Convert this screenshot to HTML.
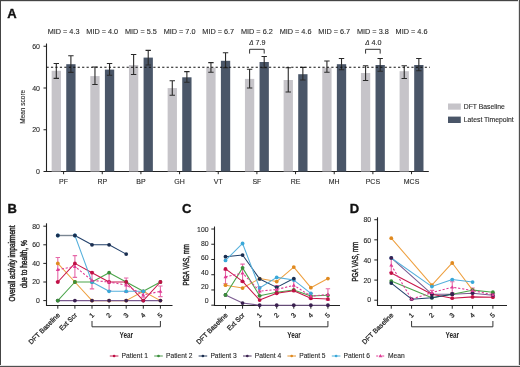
<!DOCTYPE html>
<html><head><meta charset="utf-8"><style>
html,body{margin:0;padding:0;background:#fff;position:relative;width:520px;height:367px;overflow:hidden;}
svg{display:block;font-family:"Liberation Sans", sans-serif;filter:blur(0.3px);}
text{stroke:#262626;stroke-width:0.1px;}
text[font-weight=bold]{stroke:none;}
text.L{stroke:#111;stroke-width:0.35px;}
</style></head><body>
<svg width="520" height="367" viewBox="0 0 520 367">
<text x="7.20" y="17.80" font-size="13" text-anchor="start" font-weight="bold" fill="#111"  class="L">A</text>
<line x1="46.5" y1="43.5" x2="46.5" y2="172.0" stroke="#222" stroke-width="1.1"/>
<line x1="43.5" y1="171.5" x2="428.8" y2="171.5" stroke="#222" stroke-width="1.1"/>
<line x1="43.5" y1="129.75" x2="46.5" y2="129.75" stroke="#222" stroke-width="1"/>
<line x1="43.5" y1="88.00" x2="46.5" y2="88.00" stroke="#222" stroke-width="1"/>
<line x1="43.5" y1="46.25" x2="46.5" y2="46.25" stroke="#222" stroke-width="1"/>
<text x="40.00" y="173.80" font-size="7" text-anchor="end" font-weight="normal" fill="#262626" >0</text>
<text x="40.00" y="132.10" font-size="7" text-anchor="end" font-weight="normal" fill="#262626" >20</text>
<text x="40.00" y="90.50" font-size="7" text-anchor="end" font-weight="normal" fill="#262626" >40</text>
<text x="40.00" y="48.90" font-size="7" text-anchor="end" font-weight="normal" fill="#262626" >60</text>
<text transform="translate(24.8,106.8) rotate(-90)" x="0" y="0" font-size="6.5" text-anchor="middle" fill="#262626">Mean score</text>
<rect x="51.65" y="70.80" width="9.3" height="100.70" fill="#c6c4c9"/>
<rect x="66.25" y="64.20" width="9.3" height="107.30" fill="#4a5668"/>
<path d="M53.60 63.50H59.00M56.30 63.50V78.40M53.60 78.40H59.00" stroke="#2a2a2a" stroke-width="1.1" fill="none"/>
<path d="M68.20 55.80H73.60M70.90 55.80V72.40M68.20 72.40H73.60" stroke="#2a2a2a" stroke-width="1.1" fill="none"/>
<line x1="63.60" y1="171.5" x2="63.60" y2="174.2" stroke="#222" stroke-width="1"/>
<text x="63.60" y="183.60" font-size="7" text-anchor="middle" font-weight="normal" fill="#262626" >PF</text>
<text x="63.60" y="34.20" font-size="7.3" text-anchor="middle" font-weight="normal" fill="#262626" >MID = 4.3</text>
<rect x="90.31" y="76.10" width="9.3" height="95.40" fill="#c6c4c9"/>
<rect x="104.91" y="69.60" width="9.3" height="101.90" fill="#4a5668"/>
<path d="M92.26 67.00H97.66M94.96 67.00V84.50M92.26 84.50H97.66" stroke="#2a2a2a" stroke-width="1.1" fill="none"/>
<path d="M106.86 63.50H112.26M109.56 63.50V75.30M106.86 75.30H112.26" stroke="#2a2a2a" stroke-width="1.1" fill="none"/>
<line x1="102.26" y1="171.5" x2="102.26" y2="174.2" stroke="#222" stroke-width="1"/>
<text x="102.26" y="183.60" font-size="7" text-anchor="middle" font-weight="normal" fill="#262626" >RP</text>
<text x="102.26" y="34.20" font-size="7.3" text-anchor="middle" font-weight="normal" fill="#262626" >MID = 4.0</text>
<rect x="128.97" y="65.00" width="9.3" height="106.50" fill="#c6c4c9"/>
<rect x="143.57" y="57.60" width="9.3" height="113.90" fill="#4a5668"/>
<path d="M130.92 54.50H136.32M133.62 54.50V74.50M130.92 74.50H136.32" stroke="#2a2a2a" stroke-width="1.1" fill="none"/>
<path d="M145.52 50.40H150.92M148.22 50.40V65.00M145.52 65.00H150.92" stroke="#2a2a2a" stroke-width="1.1" fill="none"/>
<line x1="140.92" y1="171.5" x2="140.92" y2="174.2" stroke="#222" stroke-width="1"/>
<text x="140.92" y="183.60" font-size="7" text-anchor="middle" font-weight="normal" fill="#262626" >BP</text>
<text x="140.92" y="34.20" font-size="7.3" text-anchor="middle" font-weight="normal" fill="#262626" >MID = 5.5</text>
<rect x="167.63" y="88.10" width="9.3" height="83.40" fill="#c6c4c9"/>
<rect x="182.23" y="77.30" width="9.3" height="94.20" fill="#4a5668"/>
<path d="M169.58 80.70H174.98M172.28 80.70V95.30M169.58 95.30H174.98" stroke="#2a2a2a" stroke-width="1.1" fill="none"/>
<path d="M184.18 71.60H189.58M186.88 71.60V82.20M184.18 82.20H189.58" stroke="#2a2a2a" stroke-width="1.1" fill="none"/>
<line x1="179.58" y1="171.5" x2="179.58" y2="174.2" stroke="#222" stroke-width="1"/>
<text x="179.58" y="183.60" font-size="7" text-anchor="middle" font-weight="normal" fill="#262626" >GH</text>
<text x="179.58" y="34.20" font-size="7.3" text-anchor="middle" font-weight="normal" fill="#262626" >MID = 7.0</text>
<rect x="206.29" y="67.70" width="9.3" height="103.80" fill="#c6c4c9"/>
<rect x="220.89" y="60.80" width="9.3" height="110.70" fill="#4a5668"/>
<path d="M208.24 62.60H213.64M210.94 62.60V72.30M208.24 72.30H213.64" stroke="#2a2a2a" stroke-width="1.1" fill="none"/>
<path d="M222.84 52.80H228.24M225.54 52.80V67.70M222.84 67.70H228.24" stroke="#2a2a2a" stroke-width="1.1" fill="none"/>
<line x1="218.24" y1="171.5" x2="218.24" y2="174.2" stroke="#222" stroke-width="1"/>
<text x="218.24" y="183.60" font-size="7" text-anchor="middle" font-weight="normal" fill="#262626" >VT</text>
<text x="218.24" y="34.20" font-size="7.3" text-anchor="middle" font-weight="normal" fill="#262626" >MID = 6.7</text>
<rect x="244.95" y="78.90" width="9.3" height="92.60" fill="#c6c4c9"/>
<rect x="259.55" y="62.00" width="9.3" height="109.50" fill="#4a5668"/>
<path d="M246.90 69.30H252.30M249.60 69.30V88.00M246.90 88.00H252.30" stroke="#2a2a2a" stroke-width="1.1" fill="none"/>
<path d="M261.50 56.50H266.90M264.20 56.50V67.70M261.50 67.70H266.90" stroke="#2a2a2a" stroke-width="1.1" fill="none"/>
<line x1="256.90" y1="171.5" x2="256.90" y2="174.2" stroke="#222" stroke-width="1"/>
<text x="256.90" y="183.60" font-size="7" text-anchor="middle" font-weight="normal" fill="#262626" >SF</text>
<text x="256.90" y="34.20" font-size="7.3" text-anchor="middle" font-weight="normal" fill="#262626" >MID = 6.2</text>
<rect x="283.61" y="80.00" width="9.3" height="91.50" fill="#c6c4c9"/>
<rect x="298.21" y="74.20" width="9.3" height="97.30" fill="#4a5668"/>
<path d="M285.56 67.70H290.96M288.26 67.70V92.00M285.56 92.00H290.96" stroke="#2a2a2a" stroke-width="1.1" fill="none"/>
<path d="M300.16 67.40H305.56M302.86 67.40V80.00M300.16 80.00H305.56" stroke="#2a2a2a" stroke-width="1.1" fill="none"/>
<line x1="295.56" y1="171.5" x2="295.56" y2="174.2" stroke="#222" stroke-width="1"/>
<text x="295.56" y="183.60" font-size="7" text-anchor="middle" font-weight="normal" fill="#262626" >RE</text>
<text x="295.56" y="34.20" font-size="7.3" text-anchor="middle" font-weight="normal" fill="#262626" >MID = 4.6</text>
<rect x="322.27" y="67.70" width="9.3" height="103.80" fill="#c6c4c9"/>
<rect x="336.87" y="64.20" width="9.3" height="107.30" fill="#4a5668"/>
<path d="M324.22 61.00H329.62M326.92 61.00V72.30M324.22 72.30H329.62" stroke="#2a2a2a" stroke-width="1.1" fill="none"/>
<path d="M338.82 58.50H344.22M341.52 58.50V69.70M338.82 69.70H344.22" stroke="#2a2a2a" stroke-width="1.1" fill="none"/>
<line x1="334.22" y1="171.5" x2="334.22" y2="174.2" stroke="#222" stroke-width="1"/>
<text x="334.22" y="183.60" font-size="7" text-anchor="middle" font-weight="normal" fill="#262626" >MH</text>
<text x="334.22" y="34.20" font-size="7.3" text-anchor="middle" font-weight="normal" fill="#262626" >MID = 6.7</text>
<rect x="360.93" y="73.00" width="9.3" height="98.50" fill="#c6c4c9"/>
<rect x="375.53" y="65.00" width="9.3" height="106.50" fill="#4a5668"/>
<path d="M362.88 65.70H368.28M365.58 65.70V80.50M362.88 80.50H368.28" stroke="#2a2a2a" stroke-width="1.1" fill="none"/>
<path d="M377.48 58.50H382.88M380.18 58.50V71.20M377.48 71.20H382.88" stroke="#2a2a2a" stroke-width="1.1" fill="none"/>
<line x1="372.88" y1="171.5" x2="372.88" y2="174.2" stroke="#222" stroke-width="1"/>
<text x="372.88" y="183.60" font-size="7" text-anchor="middle" font-weight="normal" fill="#262626" >PCS</text>
<text x="372.88" y="34.20" font-size="7.3" text-anchor="middle" font-weight="normal" fill="#262626" >MID = 3.8</text>
<rect x="399.59" y="71.20" width="9.3" height="100.30" fill="#c6c4c9"/>
<rect x="414.19" y="65.00" width="9.3" height="106.50" fill="#4a5668"/>
<path d="M401.54 65.70H406.94M404.24 65.70V78.50M401.54 78.50H406.94" stroke="#2a2a2a" stroke-width="1.1" fill="none"/>
<path d="M416.14 58.50H421.54M418.84 58.50V70.80M416.14 70.80H421.54" stroke="#2a2a2a" stroke-width="1.1" fill="none"/>
<line x1="411.54" y1="171.5" x2="411.54" y2="174.2" stroke="#222" stroke-width="1"/>
<text x="411.54" y="183.60" font-size="7" text-anchor="middle" font-weight="normal" fill="#262626" >MCS</text>
<text x="411.54" y="34.20" font-size="7.3" text-anchor="middle" font-weight="normal" fill="#262626" >MID = 4.6</text>
<line x1="46.5" y1="67.3" x2="430" y2="67.3" stroke="#111" stroke-width="1.1" stroke-dasharray="2.2 2.25"/>
<path d="M249.60 53.6V49.3H264.20V53.6" stroke="#333" stroke-width="1" fill="none"/>
<text x="257.40" y="45.00" font-size="7.2" text-anchor="middle" font-weight="normal" fill="#262626" ><tspan font-style="italic" font-size="6.4">&#916;</tspan> 7.9</text>
<path d="M365.58 53.6V49.3H380.18V53.6" stroke="#333" stroke-width="1" fill="none"/>
<text x="373.38" y="45.00" font-size="7.2" text-anchor="middle" font-weight="normal" fill="#262626" ><tspan font-style="italic" font-size="6.4">&#916;</tspan> 4.0</text>
<rect x="448" y="103.5" width="12.8" height="6.2" fill="#c6c4c9"/>
<rect x="448" y="116.6" width="12.8" height="6.4" fill="#4a5668"/>
<text x="463.80" y="109.00" font-size="6.8" text-anchor="start" font-weight="normal" fill="#262626" >DFT Baseline</text>
<text x="463.80" y="122.10" font-size="6.8" text-anchor="start" font-weight="normal" fill="#262626" >Latest Timepoint</text>
<text x="7.40" y="212.80" font-size="13" text-anchor="start" font-weight="bold" fill="#111"  class="L">B</text>
<line x1="46.5" y1="223.3" x2="46.5" y2="306.0" stroke="#222" stroke-width="1.1"/>
<line x1="46.0" y1="305.5" x2="172.5" y2="305.5" stroke="#222" stroke-width="1.1"/>
<line x1="43.3" y1="300.60" x2="46.5" y2="300.60" stroke="#222" stroke-width="1"/>
<text x="39.90" y="303.00" font-size="6.9" text-anchor="end" font-weight="normal" fill="#262626" >0</text>
<line x1="43.3" y1="282.00" x2="46.5" y2="282.00" stroke="#222" stroke-width="1"/>
<text x="39.90" y="284.40" font-size="6.9" text-anchor="end" font-weight="normal" fill="#262626" >20</text>
<line x1="43.3" y1="263.40" x2="46.5" y2="263.40" stroke="#222" stroke-width="1"/>
<text x="39.90" y="265.90" font-size="6.9" text-anchor="end" font-weight="normal" fill="#262626" >40</text>
<line x1="43.3" y1="244.80" x2="46.5" y2="244.80" stroke="#222" stroke-width="1"/>
<text x="39.90" y="247.40" font-size="6.9" text-anchor="end" font-weight="normal" fill="#262626" >60</text>
<line x1="43.3" y1="226.20" x2="46.5" y2="226.20" stroke="#222" stroke-width="1"/>
<text x="39.90" y="228.80" font-size="6.9" text-anchor="end" font-weight="normal" fill="#262626" >80</text>
<line x1="57.80" y1="305.5" x2="57.80" y2="308.7" stroke="#222" stroke-width="1"/>
<line x1="74.90" y1="305.5" x2="74.90" y2="308.7" stroke="#222" stroke-width="1"/>
<line x1="92.00" y1="305.5" x2="92.00" y2="308.7" stroke="#222" stroke-width="1"/>
<line x1="109.10" y1="305.5" x2="109.10" y2="308.7" stroke="#222" stroke-width="1"/>
<line x1="126.20" y1="305.5" x2="126.20" y2="308.7" stroke="#222" stroke-width="1"/>
<line x1="143.30" y1="305.5" x2="143.30" y2="308.7" stroke="#222" stroke-width="1"/>
<line x1="160.40" y1="305.5" x2="160.40" y2="308.7" stroke="#222" stroke-width="1"/>
<text transform="translate(15.0,263.45) rotate(-90) scale(0.78,1)" font-size="8.3" style="stroke-width:0.45px" text-anchor="middle" fill="#262626">Overall activity impairment</text>
<text transform="translate(26.8,264.15) rotate(-90) scale(0.8,1)" font-size="8.3" style="stroke-width:0.45px" text-anchor="middle" fill="#262626">due to health, %</text>
<path d="M55.60 257.43H60.00M57.80 257.43V281.77M55.60 281.77H60.00" stroke="#e668a8" stroke-width="1.1" fill="none"/>
<path d="M72.70 255.58H77.10M74.90 255.58V277.42M72.70 277.42H77.10" stroke="#e668a8" stroke-width="1.1" fill="none"/>
<path d="M89.80 271.99H94.20M92.00 271.99V288.91M89.80 288.91H94.20" stroke="#e668a8" stroke-width="1.1" fill="none"/>
<path d="M106.90 273.34H111.30M109.10 273.34V290.66M106.90 290.66H111.30" stroke="#e668a8" stroke-width="1.1" fill="none"/>
<path d="M124.00 278.03H128.40M126.20 278.03V292.17M124.00 292.17H128.40" stroke="#e668a8" stroke-width="1.1" fill="none"/>
<path d="M141.10 292.74H145.50M143.30 292.74V297.30M141.10 297.30H145.50" stroke="#e668a8" stroke-width="1.1" fill="none"/>
<path d="M158.20 285.93H162.60M160.40 285.93V296.67M158.20 296.67H162.60" stroke="#e668a8" stroke-width="1.1" fill="none"/>
<path d="M57.80 263.40 L74.90 282.00 L92.00 300.60 L109.10 300.60 L126.20 300.60 L143.30 291.30 L160.40 300.60" stroke="#eea040" stroke-width="1.05" fill="none" stroke-linejoin="round"/>
<path d="M57.80 300.60 L74.90 300.60 L92.00 300.60 L109.10 300.60 L126.20 300.60 L143.30 300.60 L160.40 300.60" stroke="#7a5a90" stroke-width="1.05" fill="none" stroke-linejoin="round"/>
<path d="M57.80 300.60 L74.90 282.00 L92.00 282.00 L109.10 272.70 L126.20 282.00 L143.30 291.30 L160.40 282.00" stroke="#4aa54a" stroke-width="1.05" fill="none" stroke-linejoin="round"/>
<path d="M57.80 282.00 L74.90 263.40 L92.00 272.70 L109.10 282.00 L126.20 282.00 L143.30 300.60 L160.40 282.00" stroke="#c8174a" stroke-width="1.05" fill="none" stroke-linejoin="round"/>
<path d="M57.80 235.50 L74.90 235.50 L92.00 244.80 L109.10 244.80 L126.20 254.10" stroke="#22406a" stroke-width="1.05" fill="none" stroke-linejoin="round"/>
<path d="M57.80 235.50 L74.90 235.50 L92.00 282.00 L109.10 291.30 L126.20 291.30 L143.30 291.30" stroke="#56b0dc" stroke-width="1.05" fill="none" stroke-linejoin="round"/>
<line x1="57.80" y1="235.50" x2="74.90" y2="235.50" stroke="#7a8692" stroke-width="1.4"/>
<path d="M57.80 269.60 L74.90 266.50 L92.00 280.45 L109.10 282.00 L126.20 285.10 L143.30 295.02 L160.40 291.30" stroke="#e03c96" stroke-width="1.1" fill="none" stroke-dasharray="2.2 1.8"/>
<circle cx="57.80" cy="263.40" r="1.9" fill="#e08a20"/>
<circle cx="74.90" cy="282.00" r="1.9" fill="#e08a20"/>
<circle cx="92.00" cy="300.60" r="1.9" fill="#e08a20"/>
<circle cx="109.10" cy="300.60" r="1.9" fill="#e08a20"/>
<circle cx="126.20" cy="300.60" r="1.9" fill="#e08a20"/>
<circle cx="143.30" cy="291.30" r="1.9" fill="#e08a20"/>
<circle cx="160.40" cy="300.60" r="1.9" fill="#e08a20"/>
<circle cx="57.80" cy="300.60" r="1.9" fill="#3a2050"/>
<circle cx="74.90" cy="300.60" r="1.9" fill="#3a2050"/>
<circle cx="92.00" cy="300.60" r="1.9" fill="#3a2050"/>
<circle cx="109.10" cy="300.60" r="1.9" fill="#3a2050"/>
<circle cx="126.20" cy="300.60" r="1.9" fill="#3a2050"/>
<circle cx="143.30" cy="300.60" r="1.9" fill="#3a2050"/>
<circle cx="160.40" cy="300.60" r="1.9" fill="#3a2050"/>
<circle cx="57.80" cy="300.60" r="1.9" fill="#3a8f3a"/>
<circle cx="74.90" cy="282.00" r="1.9" fill="#3a8f3a"/>
<circle cx="92.00" cy="282.00" r="1.9" fill="#3a8f3a"/>
<circle cx="109.10" cy="272.70" r="1.9" fill="#3a8f3a"/>
<circle cx="126.20" cy="282.00" r="1.9" fill="#3a8f3a"/>
<circle cx="143.30" cy="291.30" r="1.9" fill="#3a8f3a"/>
<circle cx="160.40" cy="282.00" r="1.9" fill="#3a8f3a"/>
<circle cx="57.80" cy="282.00" r="1.9" fill="#c01045"/>
<circle cx="74.90" cy="263.40" r="1.9" fill="#c01045"/>
<circle cx="92.00" cy="272.70" r="1.9" fill="#c01045"/>
<circle cx="109.10" cy="282.00" r="1.9" fill="#c01045"/>
<circle cx="126.20" cy="282.00" r="1.9" fill="#c01045"/>
<circle cx="143.30" cy="300.60" r="1.9" fill="#c01045"/>
<circle cx="160.40" cy="282.00" r="1.9" fill="#c01045"/>
<circle cx="57.80" cy="235.50" r="1.9" fill="#3aa8d8"/>
<circle cx="74.90" cy="235.50" r="1.9" fill="#3aa8d8"/>
<circle cx="92.00" cy="282.00" r="1.9" fill="#3aa8d8"/>
<circle cx="109.10" cy="291.30" r="1.9" fill="#3aa8d8"/>
<circle cx="126.20" cy="291.30" r="1.9" fill="#3aa8d8"/>
<circle cx="143.30" cy="291.30" r="1.9" fill="#3aa8d8"/>
<circle cx="57.80" cy="235.50" r="1.9" fill="#1a2e50"/>
<circle cx="74.90" cy="235.50" r="1.9" fill="#1a2e50"/>
<circle cx="92.00" cy="244.80" r="1.9" fill="#1a2e50"/>
<circle cx="109.10" cy="244.80" r="1.9" fill="#1a2e50"/>
<circle cx="126.20" cy="254.10" r="1.9" fill="#1a2e50"/>
<path d="M55.80 271.00L57.80 267.60L59.80 271.00Z" fill="#e03c96"/>
<path d="M72.90 267.90L74.90 264.50L76.90 267.90Z" fill="#e03c96"/>
<path d="M90.00 281.85L92.00 278.45L94.00 281.85Z" fill="#e03c96"/>
<path d="M107.10 283.40L109.10 280.00L111.10 283.40Z" fill="#e03c96"/>
<path d="M124.20 286.50L126.20 283.10L128.20 286.50Z" fill="#e03c96"/>
<path d="M141.30 296.42L143.30 293.02L145.30 296.42Z" fill="#e03c96"/>
<path d="M158.40 292.70L160.40 289.30L162.40 292.70Z" fill="#e03c96"/>
<text transform="translate(60.40,315.60) rotate(-45)" font-size="6.8" text-anchor="end" fill="#262626" style="stroke-width:0.25px">DFT Baseline</text>
<text transform="translate(77.50,315.60) rotate(-45)" font-size="6.8" text-anchor="end" fill="#262626" style="stroke-width:0.25px">Ext Scr</text>
<text transform="translate(94.60,315.60) rotate(-45)" font-size="6.8" text-anchor="end" fill="#262626" style="stroke-width:0.25px">1</text>
<text transform="translate(111.70,315.60) rotate(-45)" font-size="6.8" text-anchor="end" fill="#262626" style="stroke-width:0.25px">2</text>
<text transform="translate(128.80,315.60) rotate(-45)" font-size="6.8" text-anchor="end" fill="#262626" style="stroke-width:0.25px">3</text>
<text transform="translate(145.90,315.60) rotate(-45)" font-size="6.8" text-anchor="end" fill="#262626" style="stroke-width:0.25px">4</text>
<text transform="translate(163.00,315.60) rotate(-45)" font-size="6.8" text-anchor="end" fill="#262626" style="stroke-width:0.25px">5</text>
<path d="M92.00 321V326.8H160.40V321" stroke="#333" stroke-width="1" fill="none"/>
<text transform="translate(126.30,337.6) scale(0.7,1)" font-size="9.2" font-weight="bold" text-anchor="middle" fill="#262626">Year</text>
<text x="181.90" y="212.80" font-size="13" text-anchor="start" font-weight="bold" fill="#111"  class="L">C</text>
<line x1="214.5" y1="226.5" x2="214.5" y2="306.0" stroke="#222" stroke-width="1.1"/>
<line x1="214.0" y1="305.5" x2="340" y2="305.5" stroke="#222" stroke-width="1.1"/>
<line x1="211.3" y1="305.20" x2="214.5" y2="305.20" stroke="#222" stroke-width="1"/>
<text x="208.60" y="302.80" font-size="6.9" text-anchor="end" font-weight="normal" fill="#262626" >0</text>
<line x1="211.3" y1="289.96" x2="214.5" y2="289.96" stroke="#222" stroke-width="1"/>
<text x="208.60" y="288.60" font-size="6.9" text-anchor="end" font-weight="normal" fill="#262626" >20</text>
<line x1="211.3" y1="274.72" x2="214.5" y2="274.72" stroke="#222" stroke-width="1"/>
<text x="208.60" y="274.60" font-size="6.9" text-anchor="end" font-weight="normal" fill="#262626" >40</text>
<line x1="211.3" y1="259.48" x2="214.5" y2="259.48" stroke="#222" stroke-width="1"/>
<text x="208.60" y="260.40" font-size="6.9" text-anchor="end" font-weight="normal" fill="#262626" >60</text>
<line x1="211.3" y1="244.24" x2="214.5" y2="244.24" stroke="#222" stroke-width="1"/>
<text x="208.60" y="246.20" font-size="6.9" text-anchor="end" font-weight="normal" fill="#262626" >80</text>
<line x1="211.3" y1="229.00" x2="214.5" y2="229.00" stroke="#222" stroke-width="1"/>
<text x="208.60" y="231.70" font-size="6.9" text-anchor="end" font-weight="normal" fill="#262626" >100</text>
<line x1="225.50" y1="305.5" x2="225.50" y2="308.7" stroke="#222" stroke-width="1"/>
<line x1="242.57" y1="305.5" x2="242.57" y2="308.7" stroke="#222" stroke-width="1"/>
<line x1="259.64" y1="305.5" x2="259.64" y2="308.7" stroke="#222" stroke-width="1"/>
<line x1="276.71" y1="305.5" x2="276.71" y2="308.7" stroke="#222" stroke-width="1"/>
<line x1="293.78" y1="305.5" x2="293.78" y2="308.7" stroke="#222" stroke-width="1"/>
<line x1="310.85" y1="305.5" x2="310.85" y2="308.7" stroke="#222" stroke-width="1"/>
<line x1="327.92" y1="305.5" x2="327.92" y2="308.7" stroke="#222" stroke-width="1"/>
<text transform="translate(189.1,264.8) rotate(-90) scale(0.71,1)" font-size="8.6" style="stroke-width:0.45px" text-anchor="middle" fill="#262626">PtGA VAS, mm</text>
<path d="M223.30 269.86H227.70M225.50 269.86V283.82M223.30 283.82H227.70" stroke="#e668a8" stroke-width="1.1" fill="none"/>
<path d="M240.37 264.16H244.77M242.57 264.16V282.13M240.37 282.13H244.77" stroke="#e668a8" stroke-width="1.1" fill="none"/>
<path d="M257.44 286.56H261.84M259.64 286.56V295.64M257.44 295.64H261.84" stroke="#e668a8" stroke-width="1.1" fill="none"/>
<path d="M274.51 285.49H278.91M276.71 285.49V293.51M274.51 293.51H278.91" stroke="#e668a8" stroke-width="1.1" fill="none"/>
<path d="M291.58 279.93H295.98M293.78 279.93V290.59M291.58 290.59H295.98" stroke="#e668a8" stroke-width="1.1" fill="none"/>
<path d="M308.65 293.25H313.05M310.85 293.25V299.01M308.65 299.01H313.05" stroke="#e668a8" stroke-width="1.1" fill="none"/>
<path d="M325.72 288.82H330.12M327.92 288.82V300.24M325.72 300.24H330.12" stroke="#e668a8" stroke-width="1.1" fill="none"/>
<path d="M225.50 285.16 L242.57 288.06 L259.64 278.53 L276.71 281.58 L293.78 267.10 L310.85 287.67 L327.92 278.53" stroke="#eea040" stroke-width="1.05" fill="none" stroke-linejoin="round"/>
<path d="M225.50 294.91 L242.57 303.07 L259.64 305.20 L276.71 305.20 L293.78 305.20 L310.85 305.20 L327.92 305.20" stroke="#7a5a90" stroke-width="1.05" fill="none" stroke-linejoin="round"/>
<path d="M225.50 294.91 L242.57 267.86 L259.64 295.83 L276.71 292.25 L293.78 289.96 L310.85 296.06 L327.92 295.29" stroke="#4aa54a" stroke-width="1.05" fill="none" stroke-linejoin="round"/>
<path d="M225.50 268.93 L242.57 281.35 L259.64 300.09 L276.71 293.24 L293.78 290.72 L310.85 298.34 L327.92 299.10" stroke="#c8174a" stroke-width="1.05" fill="none" stroke-linejoin="round"/>
<path d="M225.50 256.66 L242.57 255.06 L259.64 278.91 L276.71 287.37 L293.78 278.53" stroke="#22406a" stroke-width="1.05" fill="none" stroke-linejoin="round"/>
<path d="M225.50 260.47 L242.57 243.48 L259.64 288.06 L276.71 277.39 L293.78 280.05 L310.85 293.39" stroke="#56b0dc" stroke-width="1.05" fill="none" stroke-linejoin="round"/>
<path d="M225.50 276.84 L242.57 273.15 L259.64 291.10 L276.71 289.50 L293.78 285.26 L310.85 296.13 L327.92 294.53" stroke="#e03c96" stroke-width="1.1" fill="none" stroke-dasharray="2.2 1.8"/>
<circle cx="225.50" cy="285.16" r="1.9" fill="#e08a20"/>
<circle cx="242.57" cy="288.06" r="1.9" fill="#e08a20"/>
<circle cx="259.64" cy="278.53" r="1.9" fill="#e08a20"/>
<circle cx="276.71" cy="281.58" r="1.9" fill="#e08a20"/>
<circle cx="293.78" cy="267.10" r="1.9" fill="#e08a20"/>
<circle cx="310.85" cy="287.67" r="1.9" fill="#e08a20"/>
<circle cx="327.92" cy="278.53" r="1.9" fill="#e08a20"/>
<circle cx="225.50" cy="294.91" r="1.9" fill="#3a2050"/>
<circle cx="242.57" cy="303.07" r="1.9" fill="#3a2050"/>
<circle cx="259.64" cy="305.20" r="1.9" fill="#3a2050"/>
<circle cx="276.71" cy="305.20" r="1.9" fill="#3a2050"/>
<circle cx="293.78" cy="305.20" r="1.9" fill="#3a2050"/>
<circle cx="310.85" cy="305.20" r="1.9" fill="#3a2050"/>
<circle cx="327.92" cy="305.20" r="1.9" fill="#3a2050"/>
<circle cx="225.50" cy="294.91" r="1.9" fill="#3a8f3a"/>
<circle cx="242.57" cy="267.86" r="1.9" fill="#3a8f3a"/>
<circle cx="259.64" cy="295.83" r="1.9" fill="#3a8f3a"/>
<circle cx="276.71" cy="292.25" r="1.9" fill="#3a8f3a"/>
<circle cx="293.78" cy="289.96" r="1.9" fill="#3a8f3a"/>
<circle cx="310.85" cy="296.06" r="1.9" fill="#3a8f3a"/>
<circle cx="327.92" cy="295.29" r="1.9" fill="#3a8f3a"/>
<circle cx="225.50" cy="268.93" r="1.9" fill="#c01045"/>
<circle cx="242.57" cy="281.35" r="1.9" fill="#c01045"/>
<circle cx="259.64" cy="300.09" r="1.9" fill="#c01045"/>
<circle cx="276.71" cy="293.24" r="1.9" fill="#c01045"/>
<circle cx="293.78" cy="290.72" r="1.9" fill="#c01045"/>
<circle cx="310.85" cy="298.34" r="1.9" fill="#c01045"/>
<circle cx="327.92" cy="299.10" r="1.9" fill="#c01045"/>
<circle cx="225.50" cy="260.47" r="1.9" fill="#3aa8d8"/>
<circle cx="242.57" cy="243.48" r="1.9" fill="#3aa8d8"/>
<circle cx="259.64" cy="288.06" r="1.9" fill="#3aa8d8"/>
<circle cx="276.71" cy="277.39" r="1.9" fill="#3aa8d8"/>
<circle cx="293.78" cy="280.05" r="1.9" fill="#3aa8d8"/>
<circle cx="310.85" cy="293.39" r="1.9" fill="#3aa8d8"/>
<circle cx="225.50" cy="256.66" r="1.9" fill="#1a2e50"/>
<circle cx="242.57" cy="255.06" r="1.9" fill="#1a2e50"/>
<circle cx="259.64" cy="278.91" r="1.9" fill="#1a2e50"/>
<circle cx="276.71" cy="287.37" r="1.9" fill="#1a2e50"/>
<circle cx="293.78" cy="278.53" r="1.9" fill="#1a2e50"/>
<path d="M223.50 278.24L225.50 274.84L227.50 278.24Z" fill="#e03c96"/>
<path d="M240.57 274.55L242.57 271.15L244.57 274.55Z" fill="#e03c96"/>
<path d="M257.64 292.50L259.64 289.10L261.64 292.50Z" fill="#e03c96"/>
<path d="M274.71 290.90L276.71 287.50L278.71 290.90Z" fill="#e03c96"/>
<path d="M291.78 286.66L293.78 283.26L295.78 286.66Z" fill="#e03c96"/>
<path d="M308.85 297.53L310.85 294.13L312.85 297.53Z" fill="#e03c96"/>
<path d="M325.92 295.93L327.92 292.53L329.92 295.93Z" fill="#e03c96"/>
<text transform="translate(228.10,315.60) rotate(-45)" font-size="6.8" text-anchor="end" fill="#262626" style="stroke-width:0.25px">DFT Baseline</text>
<text transform="translate(245.17,315.60) rotate(-45)" font-size="6.8" text-anchor="end" fill="#262626" style="stroke-width:0.25px">Ext Scr</text>
<text transform="translate(262.24,315.60) rotate(-45)" font-size="6.8" text-anchor="end" fill="#262626" style="stroke-width:0.25px">1</text>
<text transform="translate(279.31,315.60) rotate(-45)" font-size="6.8" text-anchor="end" fill="#262626" style="stroke-width:0.25px">2</text>
<text transform="translate(296.38,315.60) rotate(-45)" font-size="6.8" text-anchor="end" fill="#262626" style="stroke-width:0.25px">3</text>
<text transform="translate(313.45,315.60) rotate(-45)" font-size="6.8" text-anchor="end" fill="#262626" style="stroke-width:0.25px">4</text>
<text transform="translate(330.52,315.60) rotate(-45)" font-size="6.8" text-anchor="end" fill="#262626" style="stroke-width:0.25px">5</text>
<path d="M259.64 321V326.8H327.92V321" stroke="#333" stroke-width="1" fill="none"/>
<text transform="translate(294.00,337.6) scale(0.7,1)" font-size="9.2" font-weight="bold" text-anchor="middle" fill="#262626">Year</text>
<text x="349.80" y="212.80" font-size="13" text-anchor="start" font-weight="bold" fill="#111"  class="L">D</text>
<line x1="377.5" y1="217.3" x2="377.5" y2="306.0" stroke="#222" stroke-width="1.1"/>
<line x1="377.0" y1="305.5" x2="507" y2="305.5" stroke="#222" stroke-width="1.1"/>
<line x1="374.3" y1="300.20" x2="377.5" y2="300.20" stroke="#222" stroke-width="1"/>
<text x="371.20" y="302.40" font-size="6.9" text-anchor="end" font-weight="normal" fill="#262626" >0</text>
<line x1="374.3" y1="280.08" x2="377.5" y2="280.08" stroke="#222" stroke-width="1"/>
<text x="371.20" y="282.70" font-size="6.9" text-anchor="end" font-weight="normal" fill="#262626" >20</text>
<line x1="374.3" y1="259.96" x2="377.5" y2="259.96" stroke="#222" stroke-width="1"/>
<text x="371.20" y="262.70" font-size="6.9" text-anchor="end" font-weight="normal" fill="#262626" >40</text>
<line x1="374.3" y1="239.84" x2="377.5" y2="239.84" stroke="#222" stroke-width="1"/>
<text x="371.20" y="242.50" font-size="6.9" text-anchor="end" font-weight="normal" fill="#262626" >60</text>
<line x1="374.3" y1="219.72" x2="377.5" y2="219.72" stroke="#222" stroke-width="1"/>
<text x="371.20" y="222.10" font-size="6.9" text-anchor="end" font-weight="normal" fill="#262626" >80</text>
<line x1="391.25" y1="305.5" x2="391.25" y2="308.7" stroke="#222" stroke-width="1"/>
<line x1="411.58" y1="305.5" x2="411.58" y2="308.7" stroke="#222" stroke-width="1"/>
<line x1="431.91" y1="305.5" x2="431.91" y2="308.7" stroke="#222" stroke-width="1"/>
<line x1="452.24" y1="305.5" x2="452.24" y2="308.7" stroke="#222" stroke-width="1"/>
<line x1="472.57" y1="305.5" x2="472.57" y2="308.7" stroke="#222" stroke-width="1"/>
<line x1="492.90" y1="305.5" x2="492.90" y2="308.7" stroke="#222" stroke-width="1"/>
<text transform="translate(358.3,261.7) rotate(-90) scale(0.71,1)" font-size="8.6" style="stroke-width:0.45px" text-anchor="middle" fill="#262626">PGA VAS, mm</text>
<path d="M389.05 258.20H393.45M391.25 258.20V272.21M389.05 272.21H393.45" stroke="#e668a8" stroke-width="1.1" fill="none"/>
<path d="M429.71 290.35H434.11M431.91 290.35V294.80M429.71 294.80H434.11" stroke="#e668a8" stroke-width="1.1" fill="none"/>
<path d="M450.04 281.70H454.44M452.24 281.70V292.72M450.04 292.72H454.44" stroke="#e668a8" stroke-width="1.1" fill="none"/>
<path d="M470.37 288.05H474.77M472.57 288.05V292.92M470.37 292.92H474.77" stroke="#e668a8" stroke-width="1.1" fill="none"/>
<path d="M490.70 293.37H495.10M492.90 293.37V296.30M490.70 296.30H495.10" stroke="#e668a8" stroke-width="1.1" fill="none"/>
<path d="M391.25 238.13 L431.91 285.11 L452.24 262.98 L472.57 290.14" stroke="#eea040" stroke-width="1.05" fill="none" stroke-linejoin="round"/>
<path d="M391.25 257.95 L431.91 294.16 L452.24 294.16 L472.57 293.16 L492.90 295.17" stroke="#7a5a90" stroke-width="1.05" fill="none" stroke-linejoin="round"/>
<path d="M391.25 281.09 L431.91 297.69 L452.24 294.16 L472.57 290.14 L492.90 292.15" stroke="#4aa54a" stroke-width="1.05" fill="none" stroke-linejoin="round"/>
<path d="M391.25 273.04 L431.91 294.16 L452.24 298.19 L472.57 296.88 L492.90 297.18" stroke="#c8174a" stroke-width="1.05" fill="none" stroke-linejoin="round"/>
<path d="M391.25 283.10 L411.58 299.19 L431.91 297.69 L452.24 294.16" stroke="#22406a" stroke-width="1.05" fill="none" stroke-linejoin="round"/>
<path d="M391.25 257.95 L431.91 286.62 L452.24 279.58 L472.57 282.09" stroke="#56b0dc" stroke-width="1.05" fill="none" stroke-linejoin="round"/>
<path d="M391.25 265.21 L411.58 299.19 L431.91 292.57 L452.24 287.21 L472.57 290.48 L492.90 294.83" stroke="#e03c96" stroke-width="1.1" fill="none" stroke-dasharray="2.2 1.8"/>
<circle cx="391.25" cy="238.13" r="1.9" fill="#e08a20"/>
<circle cx="431.91" cy="285.11" r="1.9" fill="#e08a20"/>
<circle cx="452.24" cy="262.98" r="1.9" fill="#e08a20"/>
<circle cx="472.57" cy="290.14" r="1.9" fill="#e08a20"/>
<circle cx="391.25" cy="257.95" r="1.9" fill="#3aa8d8"/>
<circle cx="431.91" cy="286.62" r="1.9" fill="#3aa8d8"/>
<circle cx="452.24" cy="279.58" r="1.9" fill="#3aa8d8"/>
<circle cx="472.57" cy="282.09" r="1.9" fill="#3aa8d8"/>
<circle cx="391.25" cy="281.09" r="1.9" fill="#3a8f3a"/>
<circle cx="431.91" cy="297.69" r="1.9" fill="#3a8f3a"/>
<circle cx="452.24" cy="294.16" r="1.9" fill="#3a8f3a"/>
<circle cx="472.57" cy="290.14" r="1.9" fill="#3a8f3a"/>
<circle cx="492.90" cy="292.15" r="1.9" fill="#3a8f3a"/>
<circle cx="391.25" cy="273.04" r="1.9" fill="#c01045"/>
<circle cx="431.91" cy="294.16" r="1.9" fill="#c01045"/>
<circle cx="452.24" cy="298.19" r="1.9" fill="#c01045"/>
<circle cx="472.57" cy="296.88" r="1.9" fill="#c01045"/>
<circle cx="492.90" cy="297.18" r="1.9" fill="#c01045"/>
<circle cx="391.25" cy="283.10" r="1.9" fill="#1a2e50"/>
<circle cx="411.58" cy="299.19" r="1.9" fill="#1a2e50"/>
<circle cx="431.91" cy="297.69" r="1.9" fill="#1a2e50"/>
<circle cx="452.24" cy="294.16" r="1.9" fill="#1a2e50"/>
<circle cx="391.25" cy="257.95" r="1.9" fill="#3a2050"/>
<circle cx="431.91" cy="294.16" r="1.9" fill="#3a2050"/>
<circle cx="452.24" cy="294.16" r="1.9" fill="#3a2050"/>
<circle cx="472.57" cy="293.16" r="1.9" fill="#3a2050"/>
<circle cx="492.90" cy="295.17" r="1.9" fill="#3a2050"/>
<path d="M389.25 266.61L391.25 263.21L393.25 266.61Z" fill="#e03c96"/>
<path d="M409.58 300.59L411.58 297.19L413.58 300.59Z" fill="#e03c96"/>
<path d="M429.91 293.97L431.91 290.57L433.91 293.97Z" fill="#e03c96"/>
<path d="M450.24 288.61L452.24 285.21L454.24 288.61Z" fill="#e03c96"/>
<path d="M470.57 291.88L472.57 288.48L474.57 291.88Z" fill="#e03c96"/>
<path d="M490.90 296.23L492.90 292.83L494.90 296.23Z" fill="#e03c96"/>
<text transform="translate(393.85,315.60) rotate(-45)" font-size="6.8" text-anchor="end" fill="#262626" style="stroke-width:0.25px">DFT Baseline</text>
<text transform="translate(414.18,315.60) rotate(-45)" font-size="6.8" text-anchor="end" fill="#262626" style="stroke-width:0.25px">1</text>
<text transform="translate(434.51,315.60) rotate(-45)" font-size="6.8" text-anchor="end" fill="#262626" style="stroke-width:0.25px">2</text>
<text transform="translate(454.84,315.60) rotate(-45)" font-size="6.8" text-anchor="end" fill="#262626" style="stroke-width:0.25px">3</text>
<text transform="translate(475.17,315.60) rotate(-45)" font-size="6.8" text-anchor="end" fill="#262626" style="stroke-width:0.25px">4</text>
<text transform="translate(495.50,315.60) rotate(-45)" font-size="6.8" text-anchor="end" fill="#262626" style="stroke-width:0.25px">5</text>
<path d="M411.58 321V326.8H492.90V321" stroke="#333" stroke-width="1" fill="none"/>
<text transform="translate(452.30,337.6) scale(0.7,1)" font-size="9.2" font-weight="bold" text-anchor="middle" fill="#262626">Year</text>
<line x1="109.80" y1="356" x2="118.40" y2="356" stroke="#c01045" stroke-width="0.9"/>
<circle cx="114.10" cy="356" r="1.35" fill="#c01045"/>
<text x="121.60" y="358.40" font-size="6.7" text-anchor="start" font-weight="normal" fill="#262626" >Patient 1</text>
<line x1="154.20" y1="356" x2="162.80" y2="356" stroke="#3a8f3a" stroke-width="0.9"/>
<circle cx="158.50" cy="356" r="1.35" fill="#3a8f3a"/>
<text x="166.00" y="358.40" font-size="6.7" text-anchor="start" font-weight="normal" fill="#262626" >Patient 2</text>
<line x1="198.60" y1="356" x2="207.20" y2="356" stroke="#1a2e50" stroke-width="0.9"/>
<circle cx="202.90" cy="356" r="1.35" fill="#1a2e50"/>
<text x="210.40" y="358.40" font-size="6.7" text-anchor="start" font-weight="normal" fill="#262626" >Patient 3</text>
<line x1="243.00" y1="356" x2="251.60" y2="356" stroke="#3a2050" stroke-width="0.9"/>
<circle cx="247.30" cy="356" r="1.35" fill="#3a2050"/>
<text x="254.80" y="358.40" font-size="6.7" text-anchor="start" font-weight="normal" fill="#262626" >Patient 4</text>
<line x1="287.40" y1="356" x2="296.00" y2="356" stroke="#e08a20" stroke-width="0.9"/>
<circle cx="291.70" cy="356" r="1.35" fill="#e08a20"/>
<text x="299.20" y="358.40" font-size="6.7" text-anchor="start" font-weight="normal" fill="#262626" >Patient 5</text>
<line x1="331.80" y1="356" x2="340.40" y2="356" stroke="#3aa8d8" stroke-width="0.9"/>
<circle cx="336.10" cy="356" r="1.35" fill="#3aa8d8"/>
<text x="343.60" y="358.40" font-size="6.7" text-anchor="start" font-weight="normal" fill="#262626" >Patient 6</text>
<line x1="376.20" y1="356" x2="384.80" y2="356" stroke="#e03c96" stroke-width="1" stroke-dasharray="2 1"/>
<path d="M378.60 357.3L380.50 354.1L382.40 357.3Z" fill="#e03c96"/>
<text x="388.00" y="358.40" font-size="6.7" text-anchor="start" font-weight="normal" fill="#262626" >Mean</text>
</svg>
<div style="position:absolute;left:0;top:0;width:520px;height:1px;background:#444"></div>
<div style="position:absolute;left:0;top:1px;width:520px;height:1px;background:#ddd"></div>
<div style="position:absolute;left:0;top:0;width:1px;height:367px;background:#444"></div>
<div style="position:absolute;left:519px;top:0;width:1px;height:367px;background:#505050"></div>
<div style="position:absolute;left:518px;top:0;width:1px;height:367px;background:#e2e2e2"></div>
<div style="position:absolute;left:0;top:366px;width:520px;height:1px;background:#505050"></div>
<div style="position:absolute;left:0;top:365px;width:520px;height:1px;background:#e2e2e2"></div>
</body></html>
